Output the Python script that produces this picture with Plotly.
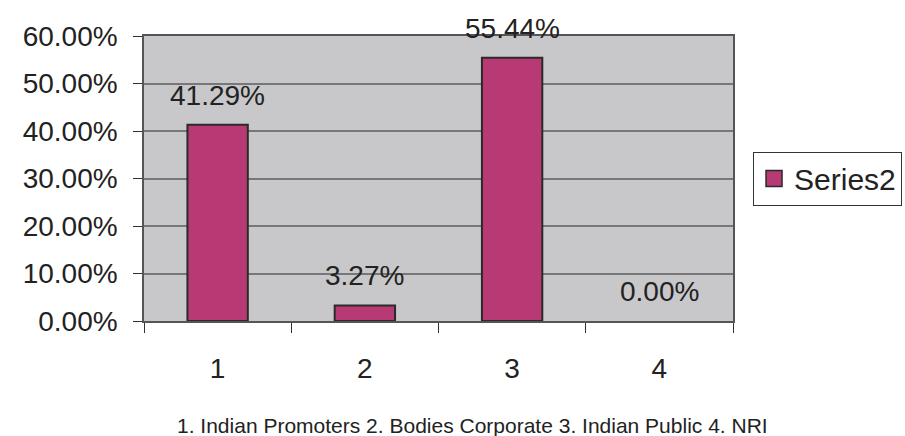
import plotly.graph_objects as go

categories = ["1", "2", "3", "4"]
values = [41.29, 3.27, 55.44, 0.00]
labels = ["41.29%", "3.27%", "55.44%", "0.00%"]
y_ticks = [0, 10, 20, 30, 40, 50, 60]
y_tick_text = ["0.00%", "10.00%", "20.00%", "30.00%", "40.00%", "50.00%", "60.00%"]
series_name = "Series2"
footnote = "1. Indian Promoters 2. Bodies Corporate 3. Indian Public 4. NRI"

FONT = "Liberation Sans, Arial, sans-serif"
BIG = 28
BAR_COLOR = "#b83a75"
EDGE = "#2a2a2a"

fig = go.Figure()
fig.add_trace(go.Bar(
    x=categories, y=values, name=series_name, showlegend=False,
    marker=dict(color=BAR_COLOR,
                line=dict(color=EDGE, width=[2 if v > 0 else 0 for v in values])),
    width=0.41,
))
# legend entry with a larger square swatch
fig.add_trace(go.Scatter(
    x=[None], y=[None], mode="markers", name=series_name,
    marker=dict(symbol="square", size=18, color=BAR_COLOR, line=dict(color=EDGE, width=1.5)),
))

for i, (v, t) in enumerate(zip(values, labels)):
    fig.add_annotation(x=i, y=v, text=t, showarrow=False, yanchor="bottom",
                       yshift=12, font=dict(size=BIG, color="#222", family=FONT))

fig.add_annotation(x=0.557, y=-0.365, xref="paper", yref="paper", text=footnote,
                   showarrow=False, xanchor="center", yanchor="middle",
                   font=dict(size=21, color="#222", family=FONT))

fig.update_layout(
    width=905, height=436,
    margin=dict(l=144, r=172, t=36, b=115, autoexpand=False),
    paper_bgcolor="white", plot_bgcolor="#c8c8ca",
    font=dict(family=FONT, color="#222"),
    showlegend=True,
    legend=dict(x=1.034, y=0.5, xanchor="left", yanchor="middle",
                bordercolor="#333", borderwidth=1, bgcolor="white",
                font=dict(size=30, color="#222", family=FONT),
                itemwidth=30, tracegroupgap=0),
    xaxis=dict(type="category", range=[-0.5, 3.5], tickson="boundaries", ticks="outside",
               ticklen=10, tickcolor="#333", showline=True, linecolor="#555",
               linewidth=1.5, mirror=True, showgrid=False,
               tickfont=dict(size=BIG, color="#222", family=FONT), ticklabelstandoff=22),
    yaxis=dict(range=[0, 60], tickvals=y_ticks, ticktext=y_tick_text,
               ticks="outside", ticklen=9, tickcolor="#333",
               showline=True, linecolor="#555", linewidth=1.5, mirror=True,
               showgrid=True, gridcolor="#777", gridwidth=1.5, zeroline=False,
               ticklabelstandoff=10,
               tickfont=dict(size=BIG, color="#222", family=FONT)),
)

fig.write_html("out.html")
